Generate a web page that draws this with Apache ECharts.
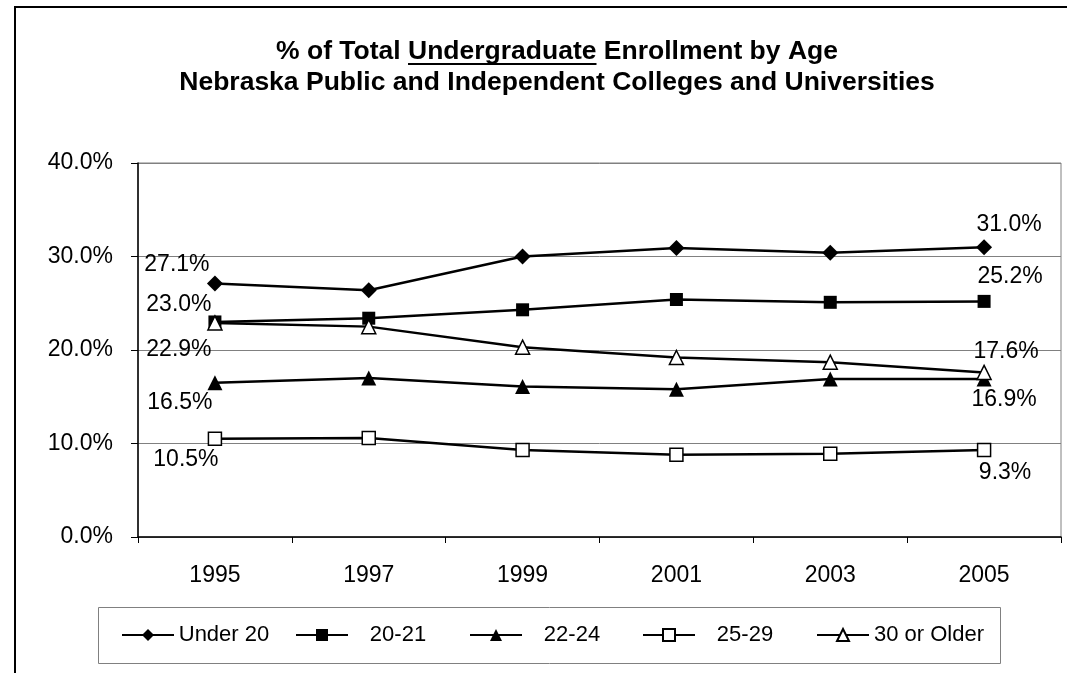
<!DOCTYPE html>
<html>
<head>
<meta charset="utf-8">
<title>Undergraduate Enrollment by Age</title>
<script src="https://cdn.jsdelivr.net/npm/echarts@6/dist/echarts.min.js"></script>
<style>
  html, body { margin: 0; padding: 0; background: #fff; }
  #chart { width: 1067px; height: 673px; }
</style>
</head>
<body>
<div id="chart"></div>
<script>
// data (percent of total undergraduate enrollment)
const years = ['1995', '1997', '1999', '2001', '2003', '2005']
const under20 = [27.1, 26.4, 30.0, 30.9, 30.4, 31.0]
const age2021 = [23.0, 23.4, 24.3, 25.4, 25.1, 25.2]
const age2224 = [16.5, 17.0, 16.1, 15.8, 16.9, 16.9]
const age2529 = [10.5, 10.6, 9.3, 8.8, 8.9, 9.3]
const age30up = [22.9, 22.5, 20.3, 19.2, 18.7, 17.6]
const seriesNames = ['Under 20', '20-21', '22-24', '25-29', '30 or Older']
const yTicks = [0, 10, 20, 30, 40]

const font = '"Liberation Sans", Arial, sans-serif'
const titleFont = 'bold 26.5px ' + font
const titleLine1 = ['% of Total ', 'Undergraduate', ' Enrollment by Age']
const titleLine2 = 'Nebraska Public and Independent Colleges and Universities'
const titleX = 557

// where the underline under "Undergraduate" goes
const ctx = document.createElement('canvas').getContext('2d')
ctx.font = titleFont
const fullW = ctx.measureText(titleLine1.join('')).width
const preW = ctx.measureText(titleLine1[0]).width
const wordW = ctx.measureText(titleLine1[1]).width
const ulX = titleX - fullW / 2 + preW

// only the first and last point carry a label
function endLabels(values, first, last) {
  return values.map((v, i) => {
    if (i === 0) return {value: v, label: {show: true, offset: first}}
    if (i === values.length - 1) return {value: v, label: {show: true, offset: last}}
    return v
  })
}

function makeSeries(name, values, symbol, size, hollow, first, last) {
  return {
    name: name,
    type: 'line',
    data: endLabels(values, first, last),
    symbol: symbol,
    symbolSize: size,
    lineStyle: {color: '#000', width: 2.5},
    itemStyle: hollow
      ? {color: '#fff', borderColor: '#000', borderWidth: 1.5}
      : {color: '#000', borderWidth: 0},
    label: {
      show: false,
      position: 'inside',
      color: '#000',
      fontFamily: font,
      fontSize: 23,
      formatter: p => p.value.toFixed(1) + '%'
    },
    emphasis: {disabled: true},
    animation: false
  }
}

// one legend per entry so the entries sit on even columns like the original
const legendLeft = [121, 295, 469, 642, 816]
const legends = seriesNames.map((name, i) => ({
  data: [name],
  left: legendLeft[i],
  top: 624,
  padding: 0,
  itemWidth: 52,
  itemHeight: 15,
  selectedMode: false,
  formatter: i === seriesNames.length - 1 ? '{w|{name}}' : '{t|{name}}',
  textStyle: {
    color: '#000',
    fontFamily: font,
    fontSize: 22,
    rich: {
      t: {width: 90, align: 'center', fontSize: 22, fontFamily: font, color: '#000'},
      w: {align: 'left', fontSize: 22, fontFamily: font, color: '#000'}
    }
  }
}))

const chart = echarts.init(document.getElementById('chart'))
chart.setOption({
  backgroundColor: '#fff',
  animation: false,
  graphic: [
    {
      type: 'rect',
      shape: {x: 15, y: 7, width: 1200, height: 800},
      style: {fill: 'none', stroke: '#000', lineWidth: 2},
      silent: true
    },
    {
      type: 'rect',
      shape: {x: 98.5, y: 607.5, width: 902, height: 56},
      style: {fill: 'none', stroke: '#808080', lineWidth: 1},
      silent: true
    },
    {
      type: 'text',
      x: titleX, y: 52,
      style: {text: titleLine1.join(''), font: titleFont, fill: '#000',
        align: 'center', verticalAlign: 'middle', textAlign: 'center', textVerticalAlign: 'middle'}
    },
    {
      type: 'line',
      shape: {x1: ulX, y1: 64, x2: ulX + wordW, y2: 64},
      style: {stroke: '#000', lineWidth: 2}
    },
    {
      type: 'text',
      x: titleX, y: 83,
      style: {text: titleLine2, font: titleFont, fill: '#000',
        align: 'center', verticalAlign: 'middle', textAlign: 'center', textVerticalAlign: 'middle'}
    }
  ],
  grid: {
    left: 138,
    right: 6,
    top: 163,
    bottom: 136,
    show: true,
    borderColor: '#808080',
    borderWidth: 1,
    outerBoundsMode: 'none'
  },
  legend: legends,
  xAxis: {
    type: 'category',
    data: years,
    boundaryGap: true,
    axisLine: {lineStyle: {color: '#000', width: 1.5}},
    axisTick: {show: true, length: 6, lineStyle: {color: '#000'}},
    axisLabel: {color: '#000', fontFamily: font, fontSize: 23, margin: 27},
    splitLine: {show: false}
  },
  yAxis: {
    type: 'value',
    min: yTicks[0],
    max: yTicks[yTicks.length - 1],
    interval: yTicks[1] - yTicks[0],
    axisLine: {show: true, lineStyle: {color: '#000', width: 1.5}},
    axisTick: {show: true, length: 7, lineStyle: {color: '#000'}},
    axisLabel: {color: '#000', fontFamily: font, fontSize: 23, margin: 25,
      formatter: v => v.toFixed(1) + '%'},
    splitLine: {show: true, lineStyle: {color: '#808080', width: 1}}
  },
  series: [
    makeSeries(seriesNames[0], under20, 'diamond', 16, false, [-38, -19], [25, -22]),
    makeSeries(seriesNames[1], age2021, 'rect', 13, false, [-36, -17], [26, -25]),
    makeSeries(seriesNames[2], age2224, 'triangle', 15, false, [-35, 20], [20, 21]),
    makeSeries(seriesNames[3], age2529, 'rect', 13, true, [-29, 21], [21, 23]),
    makeSeries(seriesNames[4], age30up, 'triangle', 14, true, [-36, 27], [22, -21])
  ]
})
</script>
</body>
</html>
